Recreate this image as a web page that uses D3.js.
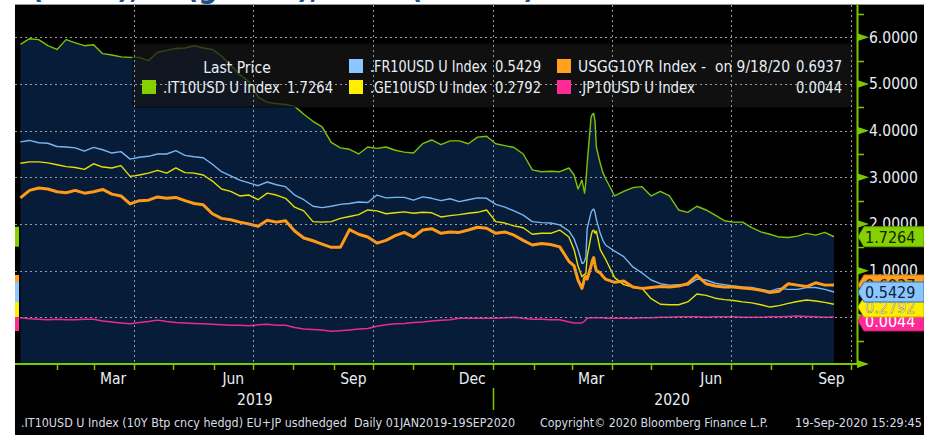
<!DOCTYPE html>
<html>
<head>
<meta charset="utf-8">
<script src="https://cdn.jsdelivr.net/npm/d3@7"></script>
<style>
  body { margin: 0; background: #fff; }
  svg { display: block; }
  text { font-family: "DejaVu Sans Condensed", "DejaVu Sans", sans-serif; white-space: pre; }
</style>
</head>
<body>
<svg width="931" height="435"></svg>
<script>
// weekly closes, plus daily points through the March 2020 spike
const dates = [
  "2019-01-04","2019-01-11","2019-01-18","2019-01-25","2019-02-01","2019-02-08","2019-02-15","2019-02-22","2019-03-01","2019-03-08",
  "2019-03-15","2019-03-22","2019-03-29","2019-04-05","2019-04-12","2019-04-19","2019-04-26","2019-05-03","2019-05-10","2019-05-17",
  "2019-05-24","2019-05-31","2019-06-07","2019-06-14","2019-06-21","2019-06-28","2019-07-05","2019-07-12","2019-07-19","2019-07-26",
  "2019-08-02","2019-08-09","2019-08-16","2019-08-23","2019-08-30","2019-09-06","2019-09-13","2019-09-20","2019-09-27","2019-10-04",
  "2019-10-11","2019-10-18","2019-10-25","2019-11-01","2019-11-08","2019-11-15","2019-11-22","2019-11-29","2019-12-06","2019-12-13",
  "2019-12-20","2019-12-27","2020-01-03","2020-01-10","2020-01-17","2020-01-24","2020-01-31","2020-02-07","2020-02-14","2020-02-21",
  "2020-02-28",
  "2020-03-03","2020-03-06","2020-03-09","2020-03-10","2020-03-11","2020-03-12","2020-03-13","2020-03-16","2020-03-17","2020-03-18",
  "2020-03-19","2020-03-20","2020-03-23","2020-03-25","2020-03-27",
  "2020-04-03","2020-04-10","2020-04-17","2020-04-24","2020-05-01","2020-05-08","2020-05-15","2020-05-22","2020-05-29","2020-06-05",
  "2020-06-12","2020-06-19","2020-06-26","2020-07-03","2020-07-10","2020-07-17","2020-07-24","2020-07-31","2020-08-07","2020-08-14",
  "2020-08-21","2020-08-28","2020-09-04","2020-09-11","2020-09-18"
];

const it10 = [
  5.85,5.97,5.95,5.82,5.74,5.95,5.88,5.82,5.84,5.65,
  5.62,5.58,5.57,5.57,5.50,5.68,5.72,5.76,5.77,5.82,
  5.77,5.74,5.60,5.40,5.20,5.05,4.72,4.61,4.58,4.56,
  4.52,4.35,4.20,4.08,3.75,3.63,3.60,3.50,3.65,3.62,
  3.65,3.58,3.54,3.52,3.72,3.80,3.70,3.78,3.78,3.72,
  3.86,3.88,3.72,3.68,3.64,3.50,3.16,3.12,3.13,3.12,
  3.20,
  3.05,2.75,2.94,2.80,2.66,2.90,3.30,4.29,4.35,4.37,4.20,3.65,3.30,3.10,2.98,
  2.60,2.70,2.78,2.80,2.60,2.70,2.60,2.30,2.25,2.38,
  2.30,2.19,2.07,2.04,2.04,1.92,1.83,1.78,1.72,1.71,
  1.74,1.80,1.76,1.82,1.7264
];
const fr10 = [
  3.76,3.79,3.74,3.73,3.66,3.65,3.63,3.56,3.64,3.59,
  3.52,3.55,3.39,3.43,3.45,3.50,3.50,3.57,3.47,3.44,
  3.42,3.28,3.12,3.03,2.94,2.88,2.82,2.90,2.84,2.80,
  2.62,2.52,2.38,2.35,2.38,2.42,2.44,2.47,2.46,2.62,
  2.56,2.57,2.57,2.51,2.58,2.55,2.50,2.54,2.48,2.52,
  2.56,2.55,2.42,2.36,2.28,2.19,2.05,2.03,2.02,1.98,
  1.85,
  1.68,1.45,1.16,1.16,1.20,1.30,1.90,2.25,2.30,2.32,2.25,2.10,1.80,1.65,1.55,
  1.42,1.30,1.08,0.95,0.80,0.72,0.69,0.70,0.69,0.82,
  0.80,0.73,0.70,0.67,0.65,0.64,0.60,0.56,0.62,0.60,
  0.60,0.64,0.64,0.60,0.5429
];
const ge10 = [
  3.30,3.33,3.33,3.31,3.27,3.23,3.21,3.17,3.29,3.22,
  3.20,3.25,3.02,3.05,3.09,3.15,3.09,3.20,3.10,3.09,
  3.05,2.92,2.75,2.70,2.60,2.62,2.52,2.66,2.62,2.55,
  2.36,2.28,2.05,2.04,2.05,2.12,2.16,2.20,2.30,2.28,
  2.22,2.24,2.26,2.23,2.25,2.24,2.15,2.18,2.20,2.23,
  2.25,2.30,2.05,2.02,1.96,1.92,1.78,1.80,1.80,1.87,
  1.72,
  1.45,1.10,0.87,0.90,0.92,0.94,1.30,1.75,1.85,1.87,1.80,1.85,1.45,1.35,1.25,
  0.85,0.70,0.65,0.62,0.40,0.28,0.27,0.27,0.33,0.50,
  0.47,0.41,0.38,0.36,0.33,0.31,0.27,0.22,0.25,0.30,
  0.34,0.37,0.35,0.32,0.2792
];
const us10 = [
  2.56,2.72,2.77,2.75,2.69,2.67,2.72,2.66,2.69,2.74,
  2.64,2.60,2.43,2.50,2.51,2.58,2.55,2.57,2.50,2.44,
  2.41,2.22,2.12,2.09,2.04,2.00,1.95,2.08,2.04,2.07,
  1.85,1.70,1.64,1.57,1.50,1.50,1.88,1.78,1.72,1.59,
  1.65,1.75,1.82,1.72,1.87,1.90,1.80,1.83,1.82,1.87,
  1.93,1.91,1.80,1.83,1.76,1.65,1.55,1.58,1.56,1.51,
  1.20,
  1.10,0.80,0.62,0.72,0.85,0.88,0.82,1.10,1.22,1.28,1.12,1.00,0.95,0.88,0.82,
  0.75,0.78,0.65,0.62,0.64,0.66,0.65,0.67,0.72,0.90,
  0.72,0.67,0.65,0.65,0.63,0.61,0.58,0.53,0.56,0.72,
  0.69,0.66,0.74,0.69,0.6937
];
const jp10 = [
  -0.01,-0.03,-0.04,-0.05,-0.04,-0.05,-0.05,-0.04,-0.04,-0.08,
  -0.10,-0.12,-0.14,-0.11,-0.09,-0.06,-0.09,-0.11,-0.12,-0.13,
  -0.14,-0.15,-0.16,-0.17,-0.17,-0.18,-0.16,-0.15,-0.17,-0.17,
  -0.22,-0.25,-0.26,-0.27,-0.30,-0.29,-0.27,-0.25,-0.24,-0.19,
  -0.16,-0.14,-0.13,-0.11,-0.10,-0.08,-0.06,-0.05,-0.02,-0.02,
  -0.02,-0.02,-0.02,-0.01,0.00,-0.02,-0.04,-0.04,-0.05,-0.05,
  -0.10,
  -0.12,-0.12,-0.12,-0.10,-0.08,-0.05,-0.02,-0.01,-0.01,-0.01,-0.01,-0.01,-0.01,-0.01,-0.02,
  -0.02,-0.02,-0.02,-0.01,-0.01,0.00,0.00,0.01,0.01,0.01,
  0.00,0.01,0.01,0.01,0.00,0.00,0.00,0.01,0.01,0.02,
  0.03,0.02,0.01,0.00,0.0044
];

const seriesNames = [".IT10USD U Index", ".FR10USD U Index", ".GE10USD U Index", "USGG10YR Index -\u00a0\u00a0on 9/18/20", ".JP10USD U Index"];
const lastPrices = ["1.7264", "0.5429", "0.2792", "0.6937", "0.0044"];
const yTicks = [-1, 0, 1, 2, 3, 4, 5, 6];
const yLabels = ["0.0000", "1.0000", "2.0000", "3.0000", "4.0000", "5.0000", "6.0000"];
const monthLabels = ["Mar", "Jun", "Sep", "Dec", "Mar", "Jun", "Sep"];
const yearLabels = ["2019", "2020"];

const parse = d3.timeParse("%Y-%m-%d");
const days = dates.map(parse);

const x = d3.scaleTime()
  .domain([new Date(2019, 0, 1), new Date(2020, 9, 6)])
  .range([16.5, 857.5]);
const y = d3.scaleLinear().domain([-1, 6]).range([364, 37.3]);

const axisGreen = "#7cc800";
const series = [
  { key: "it", values: it10, name: seriesNames[0], last: lastPrices[0], color: "#7fc300", swatch: "#84d000", width: 1.4, tagText: "#142000" },
  { key: "fr", values: fr10, name: seriesNames[1], last: lastPrices[1], color: "#78b6f2", swatch: "#8cc6ff", width: 1.4, tagText: "#0e2238" },
  { key: "ge", values: ge10, name: seriesNames[2], last: lastPrices[2], color: "#e8e000", swatch: "#ffee00", width: 1.4, tagText: "#fffbe0" },
  { key: "us", values: us10, name: seriesNames[3], last: lastPrices[3], color: "#ff9a16", swatch: "#ffa01e", width: 3, tagText: "#2a1800" },
  { key: "jp", values: jp10, name: seriesNames[4], last: lastPrices[4], color: "#ec2a8e", swatch: "#ff2a95", width: 1.5, tagText: "#ffffff" }
];
series.forEach(s => s.points = s.values.map((v, i) => ({ date: days[i], v: v })));
const byKey = k => series.find(s => s.key === k);

const svg = d3.select("svg");

// cut-off heading above the panel
const heading = svg.append("g")
  .attr("fill", "#1f4f8f")
  .attr("font-family", "Open Sans, sans-serif")
  .attr("font-weight", "bold")
  .attr("font-size", 30);
[["(", 31], ["),", 117], ["(g", 186], ["),", 297], ["(", 410], [")", 523]].forEach(f => {
  heading.append("text").attr("x", f[1]).attr("y", -2).text(f[0]);
});

// black terminal panel
svg.append("rect")
  .attr("x", 15).attr("y", 4.6)
  .attr("width", 909).attr("height", 431)
  .attr("fill", "#000");

// navy area under the Italian line
svg.append("path")
  .datum(byKey("it").points)
  .attr("fill", "#071c39")
  .attr("d", d3.area().x(d => x(d.date)).y0(y(-1)).y1(d => y(d.v)));

// lines
const line = d3.line().x(d => x(d.date)).y(d => y(d.v));
["it", "jp", "ge", "fr", "us"].forEach(k => {
  const s = byKey(k);
  svg.append("path")
    .datum(s.points)
    .attr("fill", "none")
    .attr("stroke", s.color)
    .attr("stroke-width", s.width)
    .attr("stroke-linejoin", "round")
    .attr("d", line);
});

// legend box
svg.append("rect")
  .attr("x", 133).attr("y", 44)
  .attr("width", 720).attr("height", 63)
  .attr("rx", 2)
  .attr("fill", "#161616")
  .attr("fill-opacity", 0.72)
  .attr("stroke", "#0a0a0a");

// dotted grid
const grid = svg.append("g")
  .attr("stroke", "#9a9a9a")
  .attr("stroke-width", 1)
  .attr("stroke-dasharray", "2,3");
grid.selectAll("line.h")
  .data(yTicks.filter(t => t >= 0))
  .enter().append("line")
  .attr("x1", 15).attr("x2", 853)
  .attr("y1", d => Math.round(y(d)) + 0.5).attr("y2", d => Math.round(y(d)) + 0.5);
const quarters = d3.timeMonth.every(3).range(new Date(2019, 3, 1), new Date(2020, 9, 2));
grid.selectAll("line.v")
  .data(quarters)
  .enter().append("line")
  .attr("x1", d => Math.round(x(d)) + 0.5).attr("x2", d => Math.round(x(d)) + 0.5)
  .attr("y1", 5).attr("y2", 363);

// legend text
const legend = svg.append("g").attr("font-size", 15.5).attr("fill", "#e9eef5");
legend.append("text").attr("x", 237).attr("y", 73).attr("text-anchor", "middle").text("Last Price");
const legendSlots = [
  { key: "it", col: 0, row: 1 }, { key: "fr", col: 1, row: 0 }, { key: "ge", col: 1, row: 1 },
  { key: "us", col: 2, row: 0 }, { key: "jp", col: 2, row: 1 }
];
const colX = [142, 349, 557];
const colEnd = [333, 541, 842];
legendSlots.forEach(l => {
  const s = byKey(l.key);
  const top = 59 + l.row * 21;
  legend.append("rect")
    .attr("x", colX[l.col]).attr("y", top)
    .attr("width", 14).attr("height", 14)
    .attr("fill", s.swatch);
  legend.append("text")
    .attr("x", colX[l.col] + 21).attr("y", top + 13)
    .attr("textLength", l.key === "us" ? 212 : 117)
    .attr("lengthAdjust", "spacingAndGlyphs")
    .text(s.name);
  legend.append("text")
    .attr("x", colEnd[l.col]).attr("y", top + 13)
    .attr("text-anchor", "end")
    .attr("textLength", 46)
    .attr("lengthAdjust", "spacingAndGlyphs")
    .text(s.last);
});

// x axis
const xAxis = svg.append("g").attr("stroke", axisGreen);
xAxis.append("line")
  .attr("x1", 15).attr("x2", 858)
  .attr("y1", 364).attr("y2", 364)
  .attr("stroke-width", 2);
xAxis.selectAll("line.tick")
  .data(d3.timeMonth.range(new Date(2019, 1, 1), new Date(2020, 9, 2)))
  .enter().append("line")
  .attr("x1", d => Math.round(x(d)) + 0.5).attr("x2", d => Math.round(x(d)) + 0.5)
  .attr("y1", 364).attr("y2", 370)
  .attr("stroke-width", 1.5);
xAxis.append("line")
  .attr("x1", Math.round(x(new Date(2020, 0, 1))) + 0.5)
  .attr("x2", Math.round(x(new Date(2020, 0, 1))) + 0.5)
  .attr("y1", 388).attr("y2", 410)
  .attr("stroke-width", 1.5);

const xText = svg.append("g").attr("font-size", 15.5).attr("fill", "#e9eef5").attr("text-anchor", "middle");
quarters.forEach((q, i) => {
  const mid = d3.timeDay.offset(d3.timeMonth.offset(q, -1), 15);
  xText.append("text").attr("x", x(mid)).attr("y", 384).text(monthLabels[i]);
});
const yearEdges = [new Date(2019, 0, 1), new Date(2020, 0, 1), new Date(2020, 9, 1)];
yearLabels.forEach((t, i) => {
  xText.append("text")
    .attr("x", (x(yearEdges[i]) + x(yearEdges[i + 1])) / 2)
    .attr("y", 405)
    .text(t);
});

// y axis on the right
const yAxis = svg.append("g");
yAxis.append("line")
  .attr("x1", 857.5).attr("x2", 857.5)
  .attr("y1", 4.6).attr("y2", 365)
  .attr("stroke", axisGreen).attr("stroke-width", 2);
yAxis.selectAll("path.major")
  .data(yTicks)
  .enter().append("path")
  .attr("fill", axisGreen)
  .attr("d", d => `M857,${y(d) - 4}L869,${y(d)}L857,${y(d) + 4}Z`);
yAxis.selectAll("line.minor")
  .data(yTicks.map(t => t + 0.5))
  .enter().append("line")
  .attr("x1", 857).attr("x2", 864)
  .attr("y1", d => Math.round(y(d)) + 0.5).attr("y2", d => Math.round(y(d)) + 0.5)
  .attr("stroke", axisGreen).attr("stroke-width", 1.5);
yAxis.selectAll("text")
  .data(yTicks.filter(t => t >= 0))
  .enter().append("text")
  .attr("x", 869).attr("y", d => y(d) + 5.5)
  .attr("font-size", 15.5)
  .attr("fill", "#e9eef5")
  .text((d, i) => yLabels[i]);

// last-price tags, stacked where they collide
const tagY = {};
tagY.it = y(+lastPrices[0]);
tagY.us = y(+lastPrices[3]);
tagY.fr = y(+lastPrices[1]);
tagY.ge = Math.max(y(+lastPrices[2]), tagY.fr + 15);
tagY.jp = Math.max(y(+lastPrices[4]), tagY.ge + 14);

const tags = svg.append("g");
["it", "us", "jp", "ge", "fr"].forEach(k => {
  const s = byKey(k);
  const c = tagY[k];
  tags.append("rect")
    .attr("x", 15).attr("y", c - 10)
    .attr("width", 4).attr("height", 20)
    .attr("fill", s.swatch);
  tags.append("path")
    .attr("d", `M858,${c}L864,${c - 10}L924,${c - 10}L924,${c + 10}L864,${c + 10}Z`)
    .attr("fill", s.swatch)
    .attr("stroke", k === "fr" ? "#2f6db0" : d3.color(s.swatch).darker(0.8))
    .attr("stroke-width", 1);
  tags.append("text")
    .attr("x", 865).attr("y", c + 6)
    .attr("font-size", 16)
    .attr("fill", s.tagText)
    .attr("stroke", k === "ge" ? "#6a6000" : "none")
    .attr("stroke-width", 0.4)
    .text(s.last);
});

// right white edge
svg.append("rect")
  .attr("x", 924).attr("y", 0)
  .attr("width", 7).attr("height", 435)
  .attr("fill", "#fff");

// footer
const footer = svg.append("g").attr("font-size", 12).attr("fill", "#d8dde4");
[
  [".IT10USD U Index (10Y Btp cncy hedgd) EU+JP usdhedged\u00a0\u00a0Daily 01JAN2019-19SEP2020", 21, 494],
  ["Copyright\u00a9 2020 Bloomberg Finance L.P.", 540, 228],
  ["19-Sep-2020 15:29:45", 795, 127]
].forEach(f => {
  footer.append("text")
    .attr("x", f[1]).attr("y", 427)
    .attr("textLength", f[2])
    .attr("lengthAdjust", "spacingAndGlyphs")
    .text(f[0]);
});
</script>
</body>
</html>
